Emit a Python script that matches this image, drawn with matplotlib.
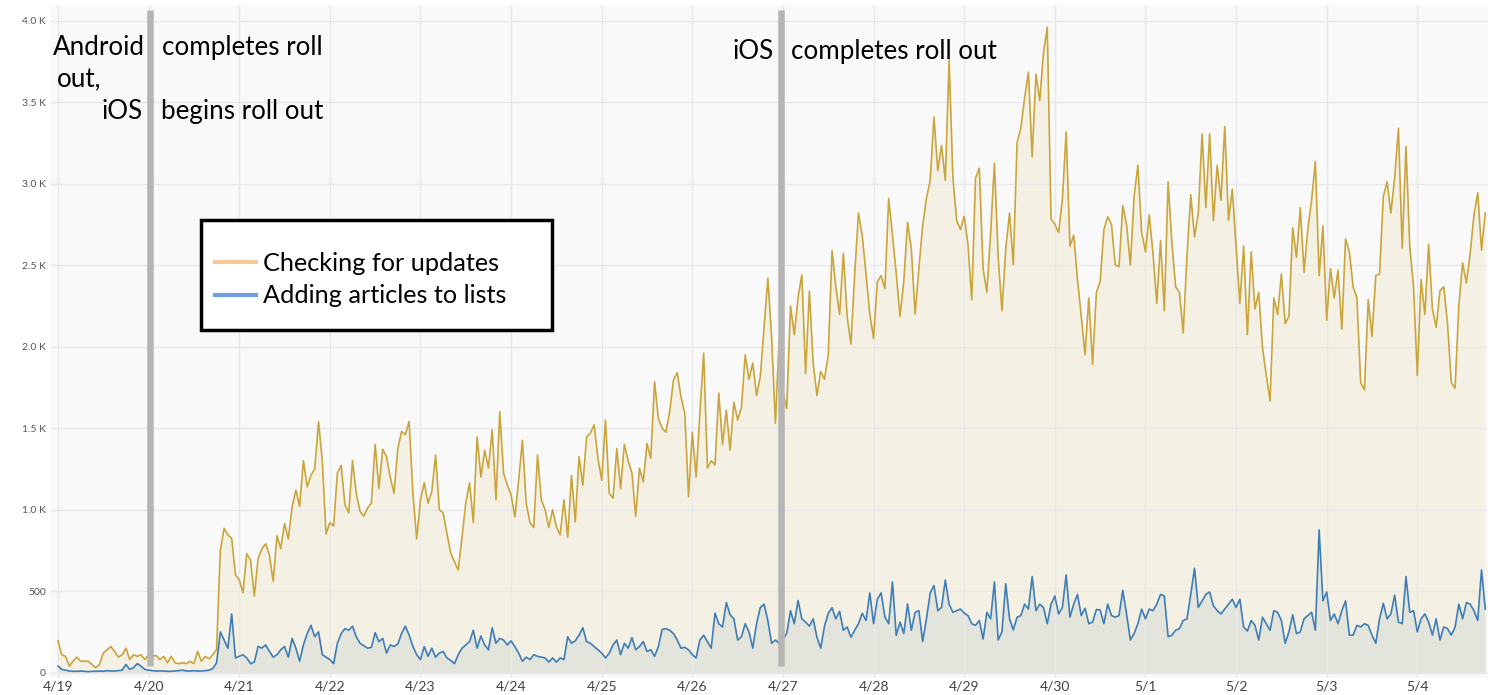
import matplotlib
matplotlib.use("Agg")
import matplotlib.pyplot as plt
from matplotlib.lines import Line2D
from matplotlib.patches import Rectangle
import numpy as np

plt.rcParams['font.family'] = ['Lato', 'DejaVu Sans']

day_labels = ['4/19', '4/20', '4/21', '4/22', '4/23', '4/24', '4/25', '4/26',
              '4/27', '4/28', '4/29', '4/30', '5/1', '5/2', '5/3', '5/4']
series_names = ['Checking for updates', 'Adding articles to lists']
# android done / iOS done, in days after 4/19 00:00
rollout_days = [1.015, 7.98]

# hourly counts, 4/19 00:00 onwards
checking = [
    195, 110, 100, 40, 70, 95, 70, 70, 70, 50, 30, 50, 120, 140, 160, 130, 95, 110, 150, 80, 110, 100, 110, 80,
    110, 100, 105, 80, 100, 60, 100, 60, 55, 60, 55, 70, 55, 130, 70, 100, 85, 110, 140, 750, 885, 845, 825, 600,
    570, 490, 730, 690, 470, 700, 760, 790, 720, 560, 840, 760, 915, 820, 1015, 1120, 1020, 1300, 1140, 1210, 1250, 1540, 1300, 850,
    920, 900, 1225, 1270, 1030, 980, 1300, 1100, 990, 960, 1010, 1040, 1400, 1130, 1370, 1325, 1200, 1100, 1375, 1480, 1460, 1540, 1100, 820,
    1060, 1165, 1040, 1110, 1335, 1000, 980, 855, 735, 680, 630, 830, 1040, 1165, 920, 1445, 1200, 1365, 1255, 1490, 1060, 1600, 1225, 1150,
    1090, 955, 1180, 1425, 1040, 920, 890, 1335, 1060, 1000, 890, 1000, 895, 845, 1060, 830, 1210, 925, 1325, 1150, 1445, 1470, 1520, 1315,
    1180, 1550, 1100, 1070, 1375, 1130, 1400, 1300, 1225, 960, 1255, 1170, 1405, 1315, 1785, 1560, 1500, 1475, 1600, 1795, 1840, 1690, 1590, 1080,
    1475, 1200, 1590, 1960, 1255, 1300, 1275, 1715, 1400, 1610, 1365, 1660, 1550, 1625, 1950, 1800, 1900, 1700, 1815, 2115, 2420, 2055, 1530, 2050,
    1720, 1620, 2250, 2073, 2300, 2440, 1835, 2340, 1900, 1700, 1847, 1800, 1950, 2590, 2367, 2197, 2571, 2186, 2016, 2446, 2820, 2680, 2446, 2200,
    2050, 2400, 2435, 2356, 2910, 2684, 2450, 2186, 2400, 2763, 2600, 2200, 2480, 2740, 2910, 3023, 3408, 3080, 3235, 3020, 3760, 3040, 2774, 2718,
    2800, 2627, 2288, 3034, 3095, 2480, 2333, 2695, 3125, 2548, 2220, 2600, 2819, 2503, 3250, 3340, 3525, 3685, 3165, 3670, 3510, 3800, 3960, 2785,
    2750, 2700, 2900, 3317, 2616, 2684, 2412, 2186, 1950, 2299, 1892, 2330, 2400, 2718, 2797, 2752, 2500, 2491, 2865, 2750, 2500, 2921, 3113, 2700,
    2582, 2808, 2571, 2265, 2650, 2220, 3011, 2638, 2367, 2333, 2084, 2559, 2932, 2672, 2819, 3306, 2853, 3306, 2774, 3113, 2899, 3351, 2774, 2966,
    2616, 2265, 2616, 2073, 2582, 2231, 2333, 1994, 1824, 1666, 2300, 2197, 2446, 2141, 2186, 2729, 2548, 2853, 2457, 2718, 2899, 3136, 2435, 2740,
    2163, 2480, 2299, 2469, 2107, 2661, 2582, 2367, 2299, 1779, 1734, 2288, 2062, 2435, 2446, 2921, 3011, 2819, 3034, 3340, 2605, 3227, 2616, 2367,
    1824, 2412, 2197, 2627, 2231, 2118, 2344, 2367, 2141, 1779, 1745, 2254, 2514, 2390, 2571, 2808, 2944, 2593, 2819,
]
adding = [
    40, 20, 15, 10, 8, 8, 10, 8, 6, 8, 8, 10, 8, 12, 10, 10, 12, 15, 50, 20, 30, 55, 40, 20,
    15, 12, 10, 10, 10, 8, 8, 10, 12, 15, 10, 10, 12, 10, 10, 12, 15, 25, 60, 250, 200, 150, 360, 90,
    100, 110, 90, 55, 65, 160, 150, 170, 130, 95, 110, 140, 160, 95, 210, 150, 70, 170, 240, 290, 220, 250, 110, 95,
    80, 55, 180, 240, 270, 260, 285, 220, 180, 165, 150, 155, 245, 190, 210, 120, 170, 160, 175, 240, 285, 230, 160, 110,
    80, 160, 100, 150, 95, 120, 130, 90, 75, 55, 110, 150, 170, 190, 260, 150, 225, 170, 140, 275, 180, 210, 200, 170,
    195, 160, 120, 70, 95, 80, 110, 100, 95, 90, 65, 90, 65, 90, 80, 220, 180, 195, 230, 275, 190, 180, 160, 140,
    120, 90, 120, 170, 200, 110, 180, 150, 215, 140, 160, 190, 130, 140, 100, 160, 265, 270, 260, 240, 200, 150, 155, 140,
    110, 90, 200, 230, 190, 150, 365, 300, 280, 430, 355, 330, 200, 220, 300, 250, 150, 300, 400, 420, 320, 180, 200, 180,
    206, 240, 380, 300, 443, 330, 310, 285, 330, 217, 150, 285, 364, 398, 330, 376, 260, 280, 217, 260, 300, 364, 320, 489,
    300, 450, 489, 340, 300, 556, 228, 310, 240, 421, 260, 370, 380, 190, 330, 489, 534, 380, 400, 568, 420, 370, 380, 390,
    365, 350, 300, 290, 320, 206, 370, 330, 556, 200, 250, 545, 330, 262, 340, 350, 420, 390, 590, 380, 420, 400, 300, 420,
    470, 360, 400, 600, 340, 420, 480, 350, 395, 300, 310, 387, 385, 300, 420, 350, 340, 350, 505, 360, 200, 240, 300, 390,
    330, 390, 380, 420, 480, 470, 220, 230, 260, 270, 320, 330, 480, 640, 400, 440, 480, 495, 410, 380, 360, 390, 420, 450,
    400, 450, 280, 255, 320, 290, 200, 340, 300, 260, 380, 370, 320, 180, 250, 355, 240, 250, 330, 350, 370, 260, 875, 440,
    495, 320, 360, 300, 380, 440, 230, 230, 290, 280, 300, 290, 230, 180, 330, 425, 330, 360, 475, 310, 300, 590, 370, 380,
    250, 330, 360, 310, 230, 330, 200, 280, 270, 230, 280, 420, 330, 430, 420, 380, 320, 630, 390,
]

days = np.arange(len(checking)) / 24.0

fig = plt.figure(figsize=(14.88, 6.95), dpi=100, facecolor='white')
ax = fig.add_axes([50/1488, 17/695, 1438/1488, 673/695])
ax.set_facecolor('#f9f9f9')

ax.fill_between(days, 0, checking, color='#f4f1e4', lw=0, zorder=0.2)
ax.fill_between(days, 0, adding, color='#e3e5dc', lw=0, zorder=0.3)
ax.plot(days, checking, color='#c9a53c', lw=1.2, zorder=2)
ax.plot(days, adding, color='#3e7db5', lw=1.2, zorder=2.1)

ax.vlines(rollout_days, 40, 4066, color='#b5b5b5', lw=4.7, zorder=3)

ax.set_xlim(-0.088, 15.78)
ax.set_ylim(-33, 4096)
ax.set_axisbelow(True)
ax.grid(color='#e8e8e8', lw=1, zorder=0.5)
for s in ax.spines.values():
    s.set_visible(False)

yt = [0, 500, 1000, 1500, 2000, 2500, 3000, 3500, 4000]
ax.set_yticks(yt)
ax.set_yticklabels([str(v) if v < 1000 else f'{v/1000:.1f} K' for v in yt])
ax.set_xticks(range(len(day_labels)))
ax.set_xticklabels(day_labels)
ax.tick_params(axis='y', length=0, pad=3, labelsize=7.5, labelcolor='#555555')
ax.tick_params(axis='x', length=0, pad=2, labelsize=10, labelcolor='#444444')

tk = dict(fontsize=18.7, color='black', va='baseline', zorder=4)
ax.text(0.960, 3790, 'Android', ha='right', **tk)
ax.text(1.148, 3790, 'completes roll', ha='left', **tk)
ax.text(-0.011, 3593, 'out,', ha='left', **tk)
ax.text(0.938, 3397, 'iOS', ha='right', **tk)
ax.text(1.137, 3397, 'begins roll out', ha='left', **tk)
ax.text(7.892, 3765, 'iOS', ha='right', **tk)
ax.text(8.09, 3765, 'completes roll out', ha='left', **tk)

fig.add_artist(Rectangle((201/1488, 1 - 330/695), 351/1488, 110/695,
                         transform=fig.transFigure, fc='white', ec='black', lw=2.5, zorder=4))
handles = [Line2D([], [], color='#f7c89a', lw=3), Line2D([], [], color='#6f9fe0', lw=3)]
fig.legend(handles, series_names, loc='upper left', bbox_to_anchor=(215/1488, 1 - 252/695),
           frameon=False, fontsize=18.2, handlelength=1.62, handletextpad=0.28,
           labelspacing=0.37, borderpad=0, borderaxespad=0)

fig.savefig('out.png', dpi=100, facecolor='white')
